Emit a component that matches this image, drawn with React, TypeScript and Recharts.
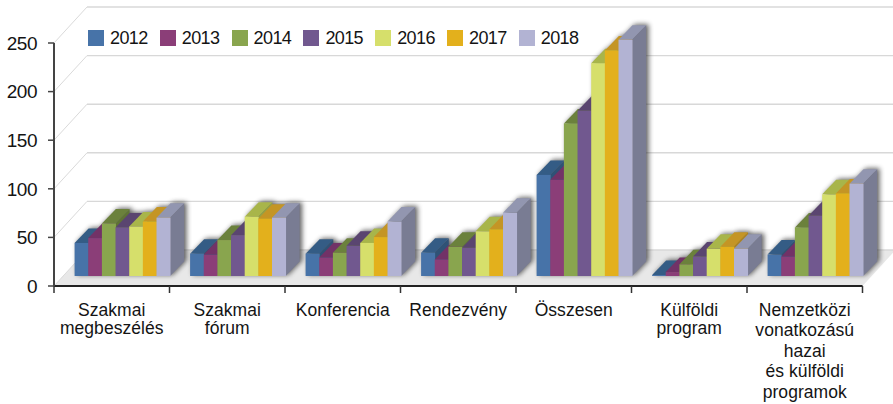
import React from 'react';
import { BarChart, Bar, XAxis, YAxis, CartesianGrid, Legend } from 'recharts';

const categories = ['Szakmai\nmegbeszélés', 'Szakmai\nfórum', 'Konferencia', 'Rendezvény', 'Összesen', 'Külföldi\nprogram', 'Nemzetközi\nvonatkozású\nhazai\nés külföldi\nprogramok'];
const v2012 = [34, 23, 23, 24, 104, 1, 22];
const v2013 = [39, 22, 19, 17, 99, 4, 20];
const v2014 = [54, 37, 24, 30, 157, 12, 50];
const v2015 = [50, 42, 31, 29, 170, 20, 62];
const v2016 = [51, 61, 34, 46, 219, 28, 84];
const v2017 = [56, 59, 40, 48, 232, 30, 85];
const v2018 = [60, 60, 56, 65, 243, 28, 95];
const years = ['2012', '2013', '2014', '2015', '2016', '2017', '2018'];
const seriesValues = [v2012, v2013, v2014, v2015, v2016, v2017, v2018];
const yTicks = [0, 50, 100, 150, 200, 250];

const frontColors = ['#4773A8', '#8B3E78', '#89A54E', '#71588F', '#D6DF6B', '#E3B01C', '#B2B3D3'];
const topColors = ['#345C85', '#723267', '#6B813C', '#5A4570', '#A8B54A', '#C49525', '#9296B0'];
const sideColors = ['#2F5276', '#632B59', '#5F7335', '#4F3D63', '#96A242', '#AE8420', '#797C93'];

const data = categories.map((name, i) => {
  const row: Record<string, string | number> = { name };
  years.forEach((y, s) => { row[y] = seriesValues[s][i]; });
  return row;
});

const W = 893, H = 404;
const X_AXIS_H = 118;
const Y_AXIS_W = 54;
const M = { top: 43, right: 30.5, bottom: 0, left: 0 };
const PLOT_BOTTOM = H - X_AXIS_H;
const PX_PER_UNIT = (PLOT_BOTTOM - M.top) / 250;
const BAND = (W - Y_AXIS_W - M.right) / categories.length;
const DX = 14, DY = -14.5;      // bar depth
const SHIFT_X = 10.6, SHIFT_Y = -10; // bars stand forward of the axis on the floor
const WALL_X = 33, WALL_Y = -36;
const BAR = 13.65;
const TEXT = '#141414';
const FONT = '"Liberation Sans", Arial, sans-serif';

const pts = (a: number[][]) => a.map(p => p.join(',')).join(' ');

const makeShape = (s: number) => (p: any) => {
  const x = p.x + SHIFT_X;
  const y = p.y + SHIFT_Y;
  const w = p.width;
  const h = p.height;
  const bottom = y + h;
  let shadow = null;
  if (s === 0) {
    // the blurred shadow of the whole group lies beneath every bar
    shadow = (
      <g style={{ filter: 'blur(2.5px)' }} opacity={0.7} transform="translate(2.5,-1)">
        {years.map((yr, i) => {
          const bx = x + i * w;
          const top = bottom - Number(p.payload[yr]) * PX_PER_UNIT;
          return (
            <polygon
              key={yr}
              fill="#222"
              points={pts([[bx, bottom], [bx, top], [bx + DX, top + DY], [bx + w + DX, top + DY], [bx + w + DX, bottom + DY], [bx + w, bottom]])}
            />
          );
        })}
      </g>
    );
  }
  return (
    <g>
      {shadow}
      <polygon fill={sideColors[s]} points={pts([[x + w, y], [x + w + DX, y + DY], [x + w + DX, bottom + DY], [x + w, bottom]])} />
      <polygon fill={topColors[s]} points={pts([[x, y], [x + DX, y + DY], [x + w + DX, y + DY], [x + w, y]])} />
      <rect x={x} y={y} width={w + 0.4} height={h} fill={frontColors[s]} />
    </g>
  );
};

const gridLine = (p: any) => {
  const { x1, x2, y1, index } = p;
  const floor = Math.abs(y1 - PLOT_BOTTOM) < 1;
  return (
    <g key={`g-${index}-${y1}`}>
      {floor && (
        <polygon fill="#E8E8E8" points={pts([[x1, y1], [x2, y1], [x2 + WALL_X, y1 + WALL_Y], [x1 + WALL_X, y1 + WALL_Y]])} />
      )}
      <line x1={x1} y1={y1} x2={x1 + WALL_X} y2={y1 + WALL_Y} stroke="#DADADA" strokeWidth={1} />
      <line x1={x1 + WALL_X} y1={y1 + WALL_Y} x2={x2 + WALL_X} y2={y1 + WALL_Y} stroke="#D8D8D8" strokeWidth={1.4} />
    </g>
  );
};

const XTick = (p: any) => {
  const lines = String(p.payload.value).split('\n');
  const lh = lines.length > 2 ? 20.4 : 18.3;
  const left = p.x - BAND / 2;
  const right = p.x + BAND / 2;
  return (
    <g>
      <line x1={left} x2={left} y1={PLOT_BOTTOM} y2={PLOT_BOTTOM + 7} stroke="#333" strokeWidth={1.5} />
      {p.index === categories.length - 1 && (
        <line x1={right} x2={right} y1={PLOT_BOTTOM} y2={PLOT_BOTTOM + 7} stroke="#333" strokeWidth={1.5} />
      )}
      <text x={p.x} y={316} textAnchor="middle" fontFamily={FONT} fontSize={17.5} fill={TEXT} letterSpacing={0.05}>
        {lines.map((l, i) => (
          <tspan key={l} x={p.x} y={316 + i * lh}>{l}</tspan>
        ))}
      </text>
    </g>
  );
};

const LegendBox = () => (
  <div style={{ display: 'flex', fontFamily: FONT, fontSize: 18, letterSpacing: -0.6, color: TEXT }}>
    {years.map((y, i) => (
      <div key={y} style={{ width: 71.8, display: 'flex', alignItems: 'center', flex: 'none', height: 16 }}>
        <span style={{ width: 16, height: 16, background: frontColors[i], marginRight: 6, flex: 'none' }} />
        <span>{y}</span>
      </div>
    ))}
  </div>
);

export default function App() {
  return (
    <div style={{ position: 'absolute', left: 0, top: 0, width: W, height: H }}>
      <BarChart width={W} height={H} data={data} margin={M} barGap={0} barSize={BAR}>
        <CartesianGrid vertical={false} horizontal={gridLine} />
        <XAxis
          dataKey="name"
          interval={0}
          height={X_AXIS_H}
          tick={<XTick />}
          tickLine={false}
          axisLine={{ stroke: '#222', strokeWidth: 2 }}
        />
        <YAxis
          width={Y_AXIS_W}
          domain={[0, 250]}
          ticks={yTicks}
          tickSize={6}
          tickMargin={11}
          axisLine={{ stroke: '#444', strokeWidth: 2 }}
          tickLine={{ stroke: '#444', strokeWidth: 1.5 }}
          tick={{ fontFamily: FONT, fontSize: 19, letterSpacing: -0.5, fill: TEXT }}
        />
        <Legend
          content={<LegendBox />}
          verticalAlign="top"
          wrapperStyle={{ position: 'absolute', left: 88, top: 30, height: 0, width: 520 }}
        />
        {years.map((y, s) => (
          <Bar key={y} dataKey={y} fill={frontColors[s]} isAnimationActive={false} shape={makeShape(s)} />
        ))}
      </BarChart>
    </div>
  );
}
